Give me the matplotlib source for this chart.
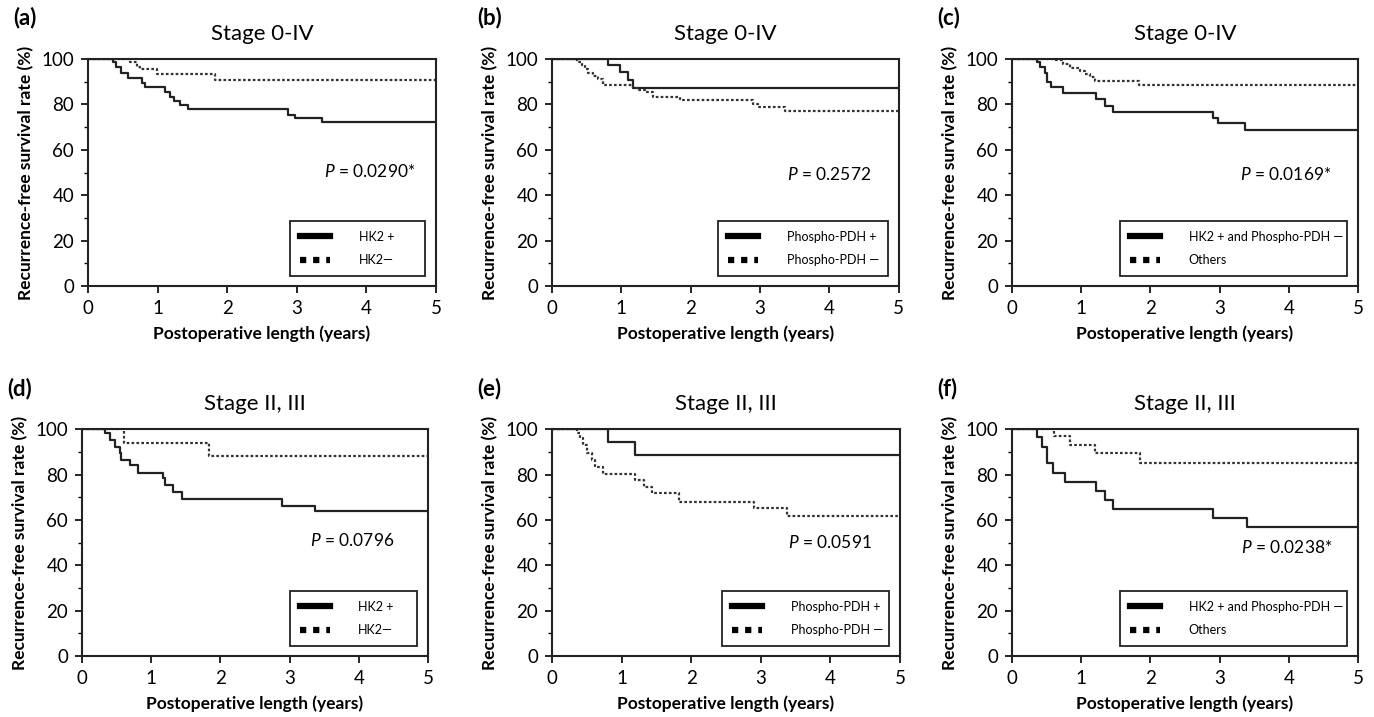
#import libraries
import numpy as np
import matplotlib
matplotlib.use('Agg')
import matplotlib.pyplot as plt
from matplotlib.lines import Line2D

plt.rcParams['font.family'] = ['Lato', 'DejaVu Sans']
plt.rcParams['mathtext.fontset'] = 'custom'
plt.rcParams['mathtext.it'] = 'Lato:italic'
plt.rcParams['mathtext.rm'] = 'Lato'

#survival curves (years, %)
a_pos_t = [0, 0.36, 0.41, 0.48, 0.58, 0.77, 0.82, 1.11, 1.18, 1.23, 1.32, 1.44, 2.88, 2.97, 3.36, 5]
a_pos_s = [100, 98.5, 96.6, 93.7, 91.5, 89.3, 87.5, 85.6, 83.4, 81.6, 79.7, 77.8, 75.3, 74.1, 72.4, 72.4]
a_neg_t = [0, 0.60, 0.70, 0.75, 0.99, 1.83, 5]
a_neg_s = [100, 98.5, 96.6, 95.5, 93.3, 90.9, 90.9]

b_pos_t = [0, 0.81, 0.98, 1.10, 1.17, 5]
b_pos_s = [100, 97.4, 94.4, 90.7, 87.4, 87.4]
b_neg_t = [0, 0.36, 0.43, 0.47, 0.52, 0.59, 0.67, 0.74, 1.17, 1.24, 1.34, 1.46, 1.84, 2.90, 2.97, 3.36, 5]
b_neg_s = [100, 98.8, 97.4, 95.4, 94.0, 92.5, 91.0, 88.5, 87.1, 86.3, 85.3, 83.4, 81.9, 80.2, 78.7, 77.2, 77.2]

c_pos_t = [0, 0.36, 0.40, 0.48, 0.50, 0.57, 0.74, 1.22, 1.34, 1.46, 2.91, 2.98, 3.37, 5]
c_pos_s = [100, 98.8, 96.6, 93.7, 90.0, 87.8, 84.9, 82.2, 79.3, 76.8, 73.9, 71.7, 68.7, 68.7]
c_neg_t = [0, 0.60, 0.74, 0.84, 0.98, 1.06, 1.13, 1.20, 1.83, 5]
c_neg_s = [100, 99.4, 97.9, 96.0, 94.6, 93.5, 92.1, 90.5, 88.7, 88.7]

d_pos_t = [0, 0.33, 0.40, 0.48, 0.55, 0.57, 0.69, 0.81, 1.17, 1.20, 1.32, 1.44, 2.89, 3.37, 5]
d_pos_s = [100, 98.3, 95.4, 92.4, 89.5, 86.5, 84.3, 80.7, 78.5, 75.5, 72.5, 69.3, 66.4, 64.0, 64.0]
d_neg_t = [0, 0.60, 1.83, 5]
d_neg_s = [100, 94.2, 88.3, 88.3]

e_pos_t = [0, 0.81, 1.19, 5]
e_pos_s = [100, 94.4, 88.6, 88.6]
e_neg_t = [0, 0.36, 0.40, 0.45, 0.50, 0.57, 0.62, 0.74, 1.20, 1.32, 1.44, 1.82, 2.90, 3.38, 5]
e_neg_s = [100, 98.3, 96.1, 93.2, 89.5, 86.5, 83.6, 80.2, 77.7, 74.7, 71.8, 68.1, 65.2, 61.9, 61.9]

f_pos_t = [0, 0.36, 0.43, 0.50, 0.60, 0.77, 1.22, 1.34, 1.46, 2.91, 3.39, 5]
f_pos_s = [100, 96.8, 92.4, 85.1, 80.7, 76.7, 73.0, 68.9, 64.8, 60.8, 56.8, 56.8]
f_neg_t = [0, 0.61, 0.84, 1.20, 1.85, 5]
f_neg_s = [100, 97.1, 93.2, 89.5, 85.4, 85.4]

panel_letters = ['(a)', '(b)', '(c)', '(d)', '(e)', '(f)']
titles = ['Stage 0-IV', 'Stage 0-IV', 'Stage 0-IV', 'Stage II, III', 'Stage II, III', 'Stage II, III']
p_values = ['0.0290*', '0.2572', '0.0169*', '0.0796', '0.0591', '0.0238*']
legend_pos = ['HK2 +', 'Phospho-PDH +', 'HK2 + and Phospho-PDH \u2014',
              'HK2 +', 'Phospho-PDH +', 'HK2 + and Phospho-PDH \u2014']
legend_neg = ['HK2\u2014', 'Phospho-PDH \u2014', 'Others',
              'HK2\u2014', 'Phospho-PDH \u2014', 'Others']

curves = [(a_pos_t, a_pos_s, a_neg_t, a_neg_s),
          (b_pos_t, b_pos_s, b_neg_t, b_neg_s),
          (c_pos_t, c_pos_s, c_neg_t, c_neg_s),
          (d_pos_t, d_pos_s, d_neg_t, d_neg_s),
          (e_pos_t, e_pos_s, e_neg_t, e_neg_s),
          (f_pos_t, f_pos_s, f_neg_t, f_neg_s)]

#axes boxes in figure fraction [left, bottom, width, height]
boxes = [[0.0640, 0.6011, 0.2533, 0.3166],
         [0.4017, 0.6011, 0.2525, 0.3166],
         [0.7365, 0.6011, 0.2518, 0.3166],
         [0.0597, 0.0851, 0.2518, 0.3159],
         [0.4017, 0.0851, 0.2533, 0.3159],
         [0.7365, 0.0851, 0.2518, 0.3159]]
p_xy = [(4.05, 50.5), (4.0, 49), (3.95, 49), (3.9, 51), (4.0, 50), (3.97, 48)]
#left edge of each legend box (axes fraction)
leg_left = [0.58, 0.48, 0.312, 0.60, 0.49, 0.312]

fig = plt.figure(figsize=(13.74, 7.17), dpi=100)

dotted = (0, (1.2, 1.0))
for i in range(6):
    ax = fig.add_axes(boxes[i])
    pt, ps, nt, ns = curves[i]
    ax.step(pt, ps, where='post', color='#222222', lw=1.6)
    ax.step(nt, ns, where='post', color='#333333', lw=1.6, linestyle=dotted)

    ax.set_xlim(0, 5)
    ax.set_ylim(0, 100)
    ax.set_xticks(range(6))
    ax.set_yticks(range(0, 101, 20))
    ax.set_yticks(range(0, 101, 10), minor=True)
    ax.tick_params(axis='both', which='major', direction='out', length=5, width=1.2,
                   labelsize=13.5, pad=5)
    ax.tick_params(axis='y', which='minor', direction='out', length=3, width=1.0)
    for sp in ax.spines.values():
        sp.set_linewidth(1.5)
        sp.set_color('#222222')

    ax.set_title(titles[i], fontsize=16, pad=14)
    ax.set_xlabel('Postoperative length (years)', fontsize=12.5, fontweight='bold', labelpad=6)
    ax.set_ylabel('Recurrence-free survival rate (%)', fontsize=12.5, fontweight='bold', labelpad=5)
    ax.text(-0.215, 1.135, panel_letters[i], transform=ax.transAxes, fontsize=16,
            fontweight='bold', va='bottom', ha='left')
    ax.text(p_xy[i][0], p_xy[i][1], r'$P$ = ' + p_values[i], fontsize=12.5,
            ha='center', va='center')

    handles = [Line2D([0], [0], color='black', lw=4.5),
               Line2D([0], [0], color='black', lw=4.5, linestyle=(0, (1, 1.1)))]
    x0 = leg_left[i]
    leg = ax.legend(handles, [legend_pos[i], legend_neg[i]], loc='lower left',
                    bbox_to_anchor=(x0, 0.044, 0.968 - x0, 0.2), mode='expand',
                    fontsize=9, frameon=True,
                    fancybox=False, framealpha=1, edgecolor='#222222',
                    handlelength=2.4, handletextpad=2.3, labelspacing=0.9,
                    borderpad=0.8, borderaxespad=0.0)
    leg.get_frame().set_linewidth(1.3)

plt.savefig('out.png', dpi=100)
